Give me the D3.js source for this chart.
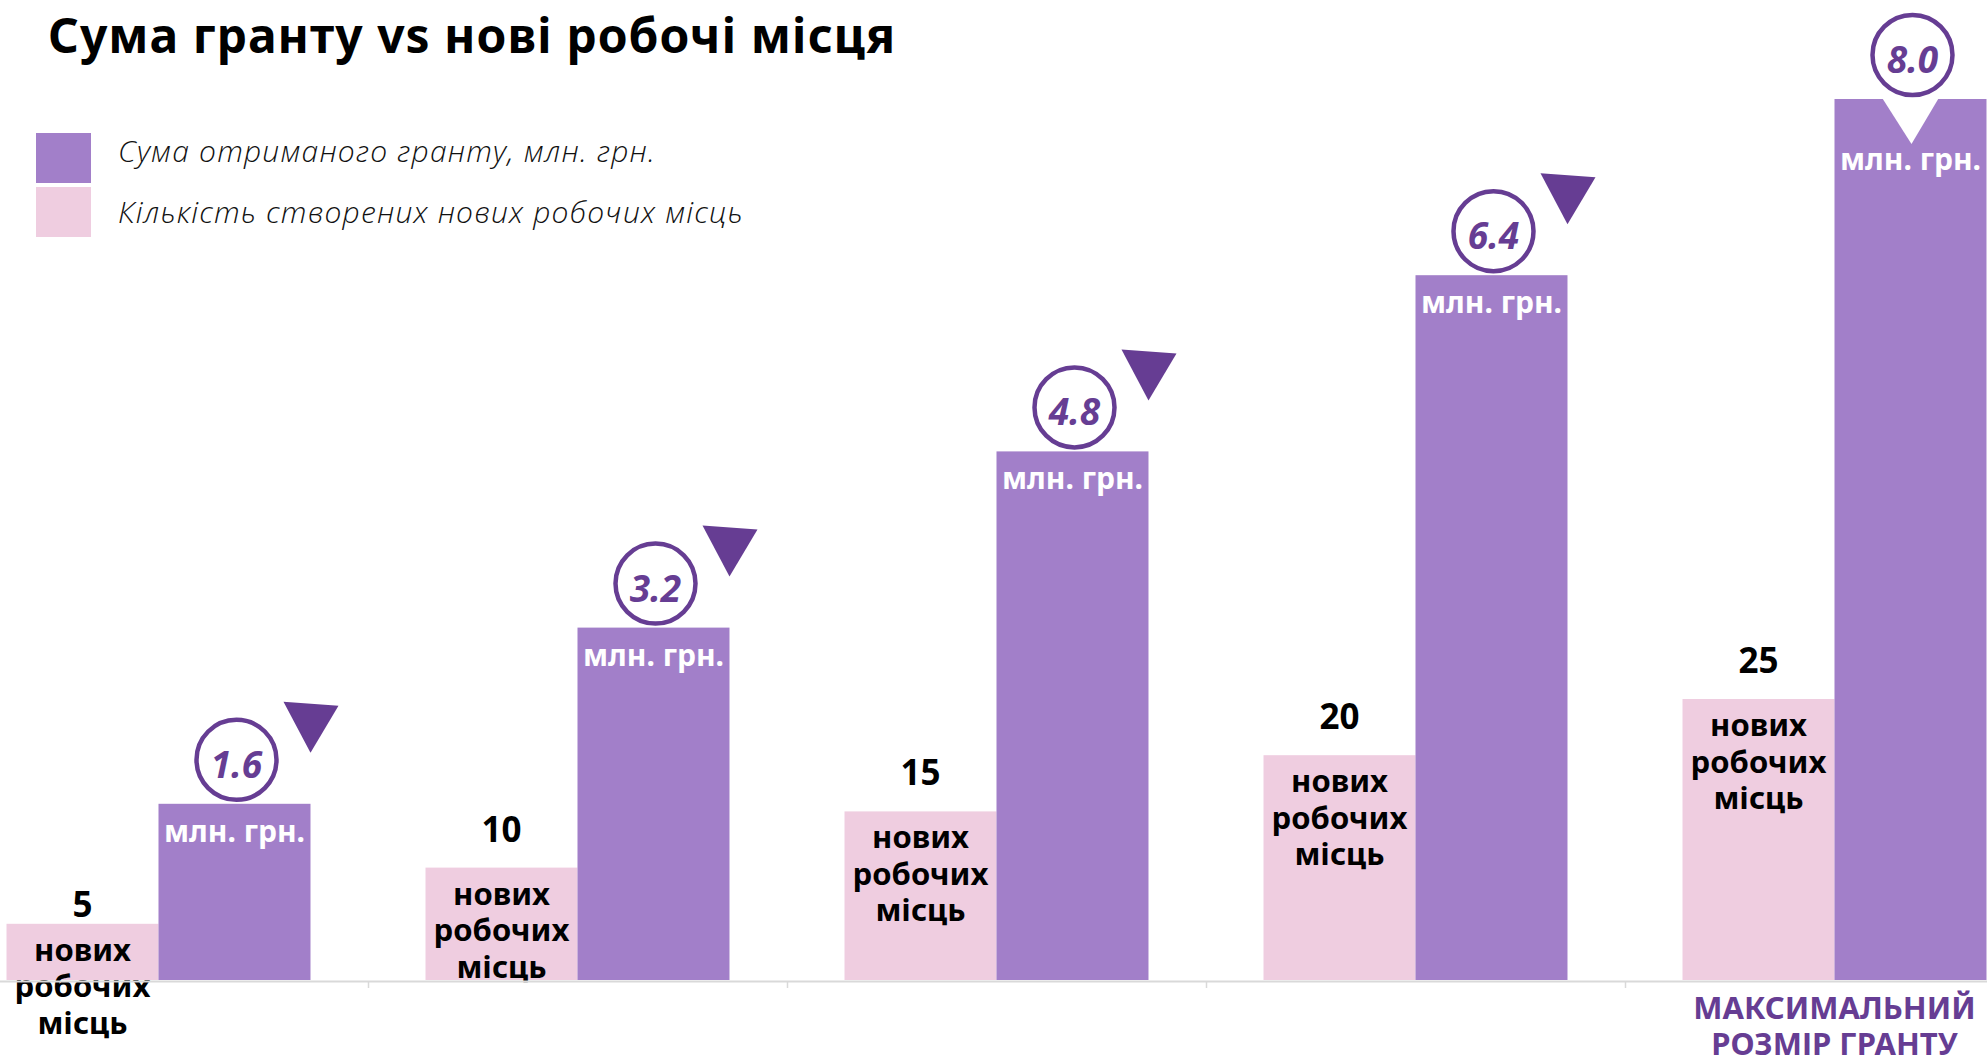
<!DOCTYPE html>
<html>
<head>
<meta charset="utf-8">
<script src="https://cdnjs.cloudflare.com/ajax/libs/d3/7.8.5/d3.min.js"></script>
<style>
    html, body { margin: 0; padding: 0; background: #fff; overflow: hidden; }
    svg { display: block; }
</style>
</head>
<body>
<div class="chart-container"></div>
<script>
// données du graphique
const groups = ['g1', 'g2', 'g3', 'g4', 'g5'];
const jobs = [5, 10, 15, 20, 25];
const grants = [1.6, 3.2, 4.8, 6.4, 8.0];
const grantUnit = 'млн. грн.';
const jobsLines = ['нових', 'робочих', 'місць'];
const legendLabels = ['Сума отриманого гранту, млн. грн.', 'Кількість створених нових робочих місць'];
const maxLabelLines = ['МАКСИМАЛЬНИЙ', 'РОЗМІР ГРАНТУ'];
const title = 'Сума гранту vs нові робочі місця';

const width = 1987, height = 1059;
const baseY = 980;
const colPurple = '#a27fc9', colPink = '#efcde0', colDark = '#663d93';
const font = '"Noto Sans", sans-serif';

const svg = d3.select('.chart-container')
    .append('svg')
    .attr('width', width)
    .attr('height', height);

// échelles
const pad = 0.2745;
const x0 = d3.scaleBand().domain(groups).range([-51, 2044]).paddingInner(pad).paddingOuter(pad / 2);
const x1 = d3.scaleBand().domain(['jobs', 'grant']).range([0, x0.bandwidth()]);
const xEdge = d3.scaleLinear().domain([0, groups.length]).range([-51, 2044]);
const yGrant = d3.scaleLinear().domain([0, 8]).range([baseY, 99]);
const yJobs = d3.scaleLinear().domain([0, 25]).range([baseY, 699]);

// titre
svg.append('text')
    .attr('x', 48).attr('y', 53)
    .attr('font-family', font).attr('font-weight', 700).attr('font-size', 48)
    .attr('letter-spacing', 1)
    .attr('fill', '#000')
    .text(title);

// légende
const legend = svg.append('g');
[colPurple, colPink].forEach((c, i) => {
    legend.append('rect')
        .attr('x', 36).attr('y', 133 + i * 54)
        .attr('width', 55).attr('height', 50)
        .attr('fill', c);
    legend.append('text')
        .attr('x', 118).attr('y', 162 + i * 61)
        .attr('font-family', '"Open Sans", sans-serif').attr('font-style', 'italic').attr('font-weight', 300)
        .attr('font-size', 30).attr('letter-spacing', 1.2).attr('fill', '#111')
        .text(legendLabels[i]);
});

// barres
const grp = svg.selectAll('.grp')
    .data(groups)
    .join('g')
    .attr('class', 'grp')
    .attr('transform', d => `translate(${x0(d)},0)`);

grp.append('rect')
    .attr('x', x1('jobs'))
    .attr('y', (d, i) => yJobs(jobs[i]))
    .attr('width', x1.bandwidth())
    .attr('height', (d, i) => baseY - yJobs(jobs[i]))
    .attr('fill', colPink);

grp.append('rect')
    .attr('x', x1('grant'))
    .attr('y', (d, i) => yGrant(grants[i]))
    .attr('width', x1.bandwidth())
    .attr('height', (d, i) => baseY - yGrant(grants[i]))
    .attr('fill', colPurple);

// axe
svg.append('g')
    .attr('transform', `translate(0,${baseY + 1})`)
    .call(d3.axisBottom(xEdge).tickValues([1, 2, 3, 4]).tickSize(7).tickSizeOuter(0).tickFormat(''))
    .call(g => g.select('.domain').attr('stroke', '#d9d9d9').attr('stroke-width', 2))
    .call(g => g.selectAll('.tick line').attr('stroke', '#d9d9d9').attr('stroke-width', 1.5));

// labels des emplois
grp.each(function (d, i) {
    const g = d3.select(this);
    const cx = x1('jobs') + x1.bandwidth() / 2;
    const top = yJobs(jobs[i]);
    g.append('text')
        .attr('x', cx).attr('y', top - (i === 0 ? 7 : 26))
        .attr('text-anchor', 'middle')
        .attr('font-family', font).attr('font-weight', 700).attr('font-size', 35)
        .attr('fill', '#000')
        .text(jobs[i]);
    jobsLines.forEach((line, k) => {
        g.append('text')
            .attr('x', cx).attr('y', top + 37 + k * 36.5)
            .attr('text-anchor', 'middle')
            .attr('font-family', font).attr('font-weight', 700).attr('font-size', 31)
            .attr('fill', '#000')
            .text(line);
    });
});

// marqueurs des subventions
grp.each(function (d, i) {
    const g = d3.select(this);
    const left = x1('grant');
    const right = left + x1.bandwidth();
    const cx = left + x1.bandwidth() / 2;
    const top = yGrant(grants[i]);
    const last = i === groups.length - 1;

    if (last) {
        // encoche blanche dans la barre
        g.append('path')
            .attr('d', `M${cx - 28},${top - 0.5}L${cx + 28},${top - 0.5}L${cx + 1},${top + 45}Z`)
            .attr('fill', '#fff');
    } else {
        g.append('path')
            .attr('d', `M${right - 27},${top - 102}L${right + 28},${top - 98}L${right},${top - 51}Z`)
            .attr('fill', colDark);
    }

    const cy = top - 44;
    g.append('circle')
        .attr('cx', cx + 2).attr('cy', cy)
        .attr('r', 40)
        .attr('fill', '#fff')
        .attr('stroke', colDark)
        .attr('stroke-width', 4.5);
    g.append('text')
        .attr('x', cx + 2).attr('y', cy + 18)
        .attr('text-anchor', 'middle')
        .attr('font-family', font).attr('font-weight', 700).attr('font-style', 'italic')
        .attr('font-size', 37)
        .attr('fill', colDark)
        .text(grants[i].toFixed(1));

    g.append('text')
        .attr('x', cx).attr('y', top + (last ? 71 : 38))
        .attr('text-anchor', 'middle')
        .attr('font-family', font).attr('font-weight', 700).attr('font-size', 30)
        .attr('fill', '#fff')
        .text(grantUnit);
});

// label du maximum
const lastX = x0(groups[groups.length - 1]) + x0.bandwidth() / 2;
maxLabelLines.forEach((line, k) => {
    svg.append('text')
        .attr('x', lastX).attr('y', 1019 + k * 36)
        .attr('text-anchor', 'middle')
        .attr('font-family', font).attr('font-weight', 700).attr('font-size', 31)
        .attr('fill', colDark)
        .text(line);
});
</script>
</body>
</html>
